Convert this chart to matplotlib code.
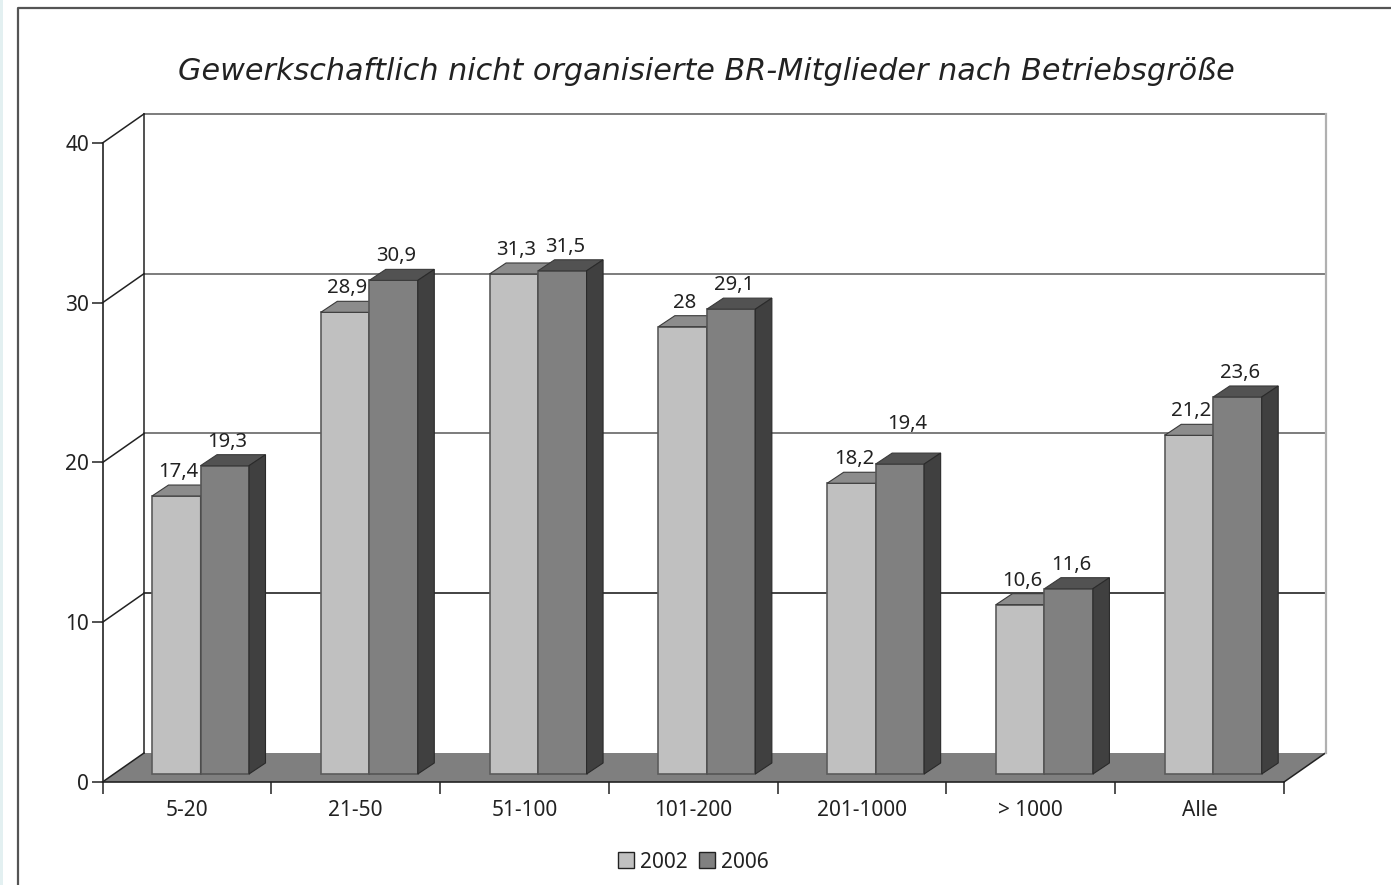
import matplotlib

matplotlib.use("Agg")
import matplotlib.pyplot as plt
from matplotlib.patches import Polygon, Rectangle

categories = ["5-20", "21-50", "51-100", "101-200", "201-1000", "> 1000", "Alle"]
years = ["2002", "2006"]
values_2002 = [17.4, 28.9, 31.3, 28, 18.2, 10.6, 21.2]
values_2006 = [19.3, 30.9, 31.5, 29.1, 19.4, 11.6, 23.6]
labels_2002 = ["17,4", "28,9", "31,3", "28", "18,2", "10,6", "21,2"]
labels_2006 = ["19,3", "30,9", "31,5", "29,1", "19,4", "11,6", "23,6"]
y_ticks = [0, 10, 20, 30, 40]

WIDTH, HEIGHT = 1391, 885
LEFT, RIGHT = 102.5, 1284
Y0, Y40 = 782, 143
TEXT = "#222222"
LINE = "#222222"


fig = plt.figure(figsize=(WIDTH / 100, HEIGHT / 100), dpi=100)
plt.rcParams["font.family"] = ["Noto Sans", "DejaVu Sans"]

# page frame, in pixels
page = fig.add_axes([0, 0, 1, 1])
page.set_xlim(0, WIDTH)
page.set_ylim(HEIGHT, 0)
page.axis("off")
page.add_patch(Rectangle((0, 0), 3, HEIGHT, fc="#e3f0f1", ec="none"))
page.plot([18, 18, WIDTH], [HEIGHT, 7.5, 7.5], color="#555555", lw=1.6)

ax = fig.add_axes(
    [LEFT / WIDTH, 1 - Y0 / HEIGHT, (RIGHT - LEFT) / WIDTH, (Y0 - Y40) / HEIGHT]
)
ax.set_xlim(0, len(categories))
ax.set_ylim(0, 40)
ax.patch.set_visible(False)

# pixel sizes converted to data units
n = len(categories)
px_x = n / (RIGHT - LEFT)
px_y = 40 / (Y0 - Y40)
depth_x = 41.5 * px_x
depth_y = 29 * px_y
bar_w = 48.5 * px_x
bar_start = 49.5 * px_x
bar_base = 8 * px_y
side_x = 16.5 * px_x
side_y = 11 * px_y

# floor
ax.add_patch(
    Polygon(
        [(0, 0), (n, 0), (n + depth_x, depth_y), (depth_x, depth_y)],
        fc="#7f7f7f", ec="none", clip_on=False, zorder=1,
    )
)
ax.plot([n, n + depth_x], [0, depth_y], color=LINE, lw=1.1, clip_on=False, zorder=1)

# back wall and gridlines
for tick in y_ticks[1:]:
    color = "#222222" if tick == 10 else "#666666"
    ax.plot(
        [depth_x, n + depth_x], [tick + depth_y] * 2,
        color=color, lw=1.2, clip_on=False, zorder=1,
    )
for tick in y_ticks:
    ax.plot(
        [0, depth_x], [tick, tick + depth_y],
        color=LINE, lw=1.1, clip_on=False, zorder=1,
    )
ax.plot([depth_x, depth_x], [depth_y, 40 + depth_y], color=LINE, lw=1.1, clip_on=False, zorder=1)
ax.plot(
    [n + depth_x, n + depth_x], [depth_y, 40 + depth_y],
    color="#b0b0b0", lw=1.6, clip_on=False, zorder=1,
)


def draw_bars(values, labels, offset, front, top, side, edge, z, nudge=None):
    nudge = nudge or {}
    xs = [i + bar_start + offset for i in range(n)]
    ax.bar(
        xs, values, width=bar_w, bottom=bar_base, align="edge",
        color=front, edgecolor=edge, linewidth=1.2, zorder=z,
    )
    for i, (x, value, label) in enumerate(zip(xs, values, labels)):
        h = value + bar_base
        ax.add_patch(
            Polygon(
                [(x, h), (x + bar_w, h), (x + bar_w + side_x, h + side_y), (x + side_x, h + side_y)],
                fc=top, ec="#3a3a3a", lw=0.8, zorder=z + 1, clip_on=False,
            )
        )
        ax.add_patch(
            Polygon(
                [
                    (x + bar_w, bar_base), (x + bar_w + side_x, bar_base + side_y),
                    (x + bar_w + side_x, h + side_y), (x + bar_w, h),
                ],
                fc=side, ec="#2a2a2a", lw=0.8, zorder=z + 1, clip_on=False,
            )
        )
        dx, dy = nudge.get(i, (0, 0))
        ax.text(
            x + bar_w * 0.5 + (2.5 + dx) * px_x, h + side_y + (3 + dy) * px_y, label,
            ha="center", va="bottom", fontsize=14.6, color=TEXT, zorder=8,
        )


draw_bars(values_2002, labels_2002, 0, "#c0c0c0", "#8c8c8c", "#8c8c8c", "#5c5c5c", 3)
draw_bars(
    values_2006, labels_2006, bar_w, "#808080", "#525252", "#404040", "#555555", 5,
    nudge={4: (5, 16)},
)

# axes
for name in ("top", "right"):
    ax.spines[name].set_visible(False)
for name in ("left", "bottom"):
    ax.spines[name].set_color(LINE)
    ax.spines[name].set_linewidth(1.2)
    ax.spines[name].set_zorder(2)

ax.set_yticks(y_ticks)
ax.set_yticklabels([str(t) for t in y_ticks], fontsize=15, color=TEXT)
ax.tick_params(axis="y", length=8, width=1.1, color=LINE, pad=1.5)
ax.set_xticks(range(n + 1))
ax.set_xticklabels([])
ax.tick_params(axis="x", which="major", length=8.5, width=1.1, color=LINE)
ax.set_xticks([i + 0.5 for i in range(n)], minor=True)
ax.set_xticklabels(categories, minor=True, fontsize=15, color=TEXT)
ax.tick_params(axis="x", which="minor", length=0, pad=13)

# title
page.text(
    706.5, 72, "Gewerkschaftlich nicht organisierte BR-Mitglieder nach Betriebsgröße",
    ha="center", va="center", fontsize=21.8, style="italic", color=TEXT,
    family=["DejaVu Sans"],
)

# legend
handles = [
    Rectangle((0, 0), 1, 1, fc="#c0c0c0", ec="#222222", lw=1.0),
    Rectangle((0, 0), 1, 1, fc="#808080", ec="#222222", lw=1.0),
]
fig.legend(
    handles, years, loc="center", bbox_to_anchor=(693 / WIDTH, 1 - 862 / HEIGHT),
    ncol=2, frameon=False, fontsize=15, handlelength=0.8, handleheight=0.8,
    handletextpad=0.25, columnspacing=0.55, labelcolor=TEXT,
)

fig.savefig("out.png", dpi=100)
